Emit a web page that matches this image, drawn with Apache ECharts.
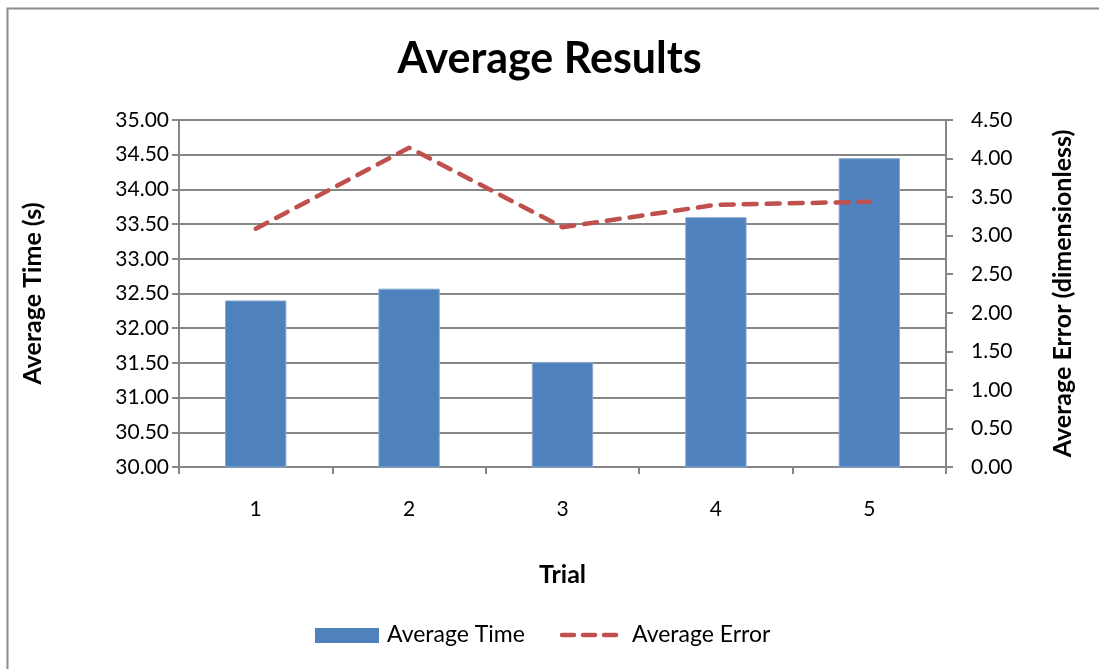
<!DOCTYPE html>
<html>
<head>
<meta charset="utf-8">
<script src="https://cdn.jsdelivr.net/npm/echarts@6/dist/echarts.min.js"></script>
<style>
html,body{margin:0;padding:0;background:#fff;}
#c{width:1099px;height:669px;}
</style>
</head>
<body>
<div id="c"></div>
<script>
var categories = ['1', '2', '3', '4', '5'];
var averageTime = [32.40, 32.57, 31.51, 33.60, 34.45];
var averageError = [3.09, 4.14, 3.11, 3.40, 3.44];
var seriesNames = ['Average Time', 'Average Error'];

var FONT = 'Lato, "Open Sans", sans-serif';
var BLUE = '#4F81BD', RED = '#C0504D', GRID = '#868686';
var chart = echarts.init(document.getElementById('c'));
chart.setOption({
  backgroundColor: '#fff',
  animation: false,
  textStyle: {fontFamily: FONT, color: '#000'},
  graphic: [{
    type: 'rect',
    shape: {x: 7.5, y: 8.5, width: 1200, height: 800},
    style: {fill: 'none', stroke: '#8c8c8c', lineWidth: 2},
    silent: true
  }, {
    type: 'rect',
    shape: {x: 315, y: 628, width: 64, height: 15},
    style: {fill: BLUE},
    silent: true
  }, {
    type: 'text',
    x: 387, y: 635,
    style: {text: seriesNames[0], fill: '#000', font: '23px ' + FONT, verticalAlign: 'middle'},
    silent: true
  }, {
    type: 'line',
    shape: {x1: 562, y1: 635, x2: 625, y2: 635},
    style: {stroke: RED, lineWidth: 4.5, lineDash: [12, 9], lineCap: 'round'},
    silent: true
  }, {
    type: 'text',
    x: 632, y: 635,
    style: {text: seriesNames[1], fill: '#000', font: '23px ' + FONT, verticalAlign: 'middle'},
    silent: true
  }],
  title: {
    text: 'Average Results',
    left: 'center',
    top: 33,
    textStyle: {fontFamily: FONT, fontSize: 43, fontWeight: 'bold', color: '#000'}
  },
  grid: {left: 179, right: 153, top: 120, bottom: 202, containLabel: false},
  xAxis: {
    type: 'category',
    data: categories,
    boundaryGap: true,
    name: 'Trial',
    nameLocation: 'middle',
    nameGap: 95,
    nameTextStyle: {fontFamily: FONT, fontSize: 25, fontWeight: 'bold', color: '#000'},
    axisLine: {lineStyle: {color: GRID, width: 2}},
    axisTick: {show: true, alignWithLabel: false, length: 7, lineStyle: {color: GRID, width: 2}},
    axisLabel: {fontFamily: FONT, fontSize: 21, color: '#000', margin: 32}
  },
  yAxis: [{
    type: 'value',
    min: 30, max: 35, interval: 0.5,
    position: 'left',
    name: 'Average Time (s)',
    nameLocation: 'middle',
    nameGap: 134,
    nameRotate: 90,
    nameTextStyle: {fontFamily: FONT, fontSize: 25, fontWeight: 'bold', color: '#000'},
    axisLine: {show: true, lineStyle: {color: GRID, width: 2}},
    axisTick: {show: true, length: 7, lineStyle: {color: GRID, width: 2}},
    splitLine: {show: true, lineStyle: {color: GRID, width: 2}},
    axisLabel: {fontFamily: FONT, fontSize: 21, color: '#000', margin: 10,
      formatter: function (v) { return v.toFixed(2); }}
  }, {
    type: 'value',
    min: 0, max: 4.5, interval: 0.5,
    position: 'right',
    name: 'Average Error (dimensionless)',
    nameLocation: 'middle',
    nameGap: 104,
    nameRotate: 90,
    nameTextStyle: {fontFamily: FONT, fontSize: 25, fontWeight: 'bold', color: '#000'},
    axisLine: {show: true, lineStyle: {color: GRID, width: 2}},
    axisTick: {show: true, length: 7, lineStyle: {color: GRID, width: 2}},
    splitLine: {show: false},
    axisLabel: {fontFamily: FONT, fontSize: 21, color: '#000', margin: 25,
      formatter: function (v) { return v.toFixed(2); }}
  }],
  series: [{
    name: seriesNames[0],
    type: 'bar',
    yAxisIndex: 0,
    data: averageTime,
    barWidth: '40%',
    itemStyle: {color: BLUE, borderColor: '#8AAAD4', borderWidth: 1}
  }, {
    name: seriesNames[1],
    type: 'line',
    yAxisIndex: 1,
    data: averageError,
    showSymbol: false,
    symbol: 'none',
    lineStyle: {color: RED, width: 4.5, type: [13, 10], cap: 'round', join: 'round'},
    itemStyle: {color: RED}
  }]
});
</script>
</body>
</html>
